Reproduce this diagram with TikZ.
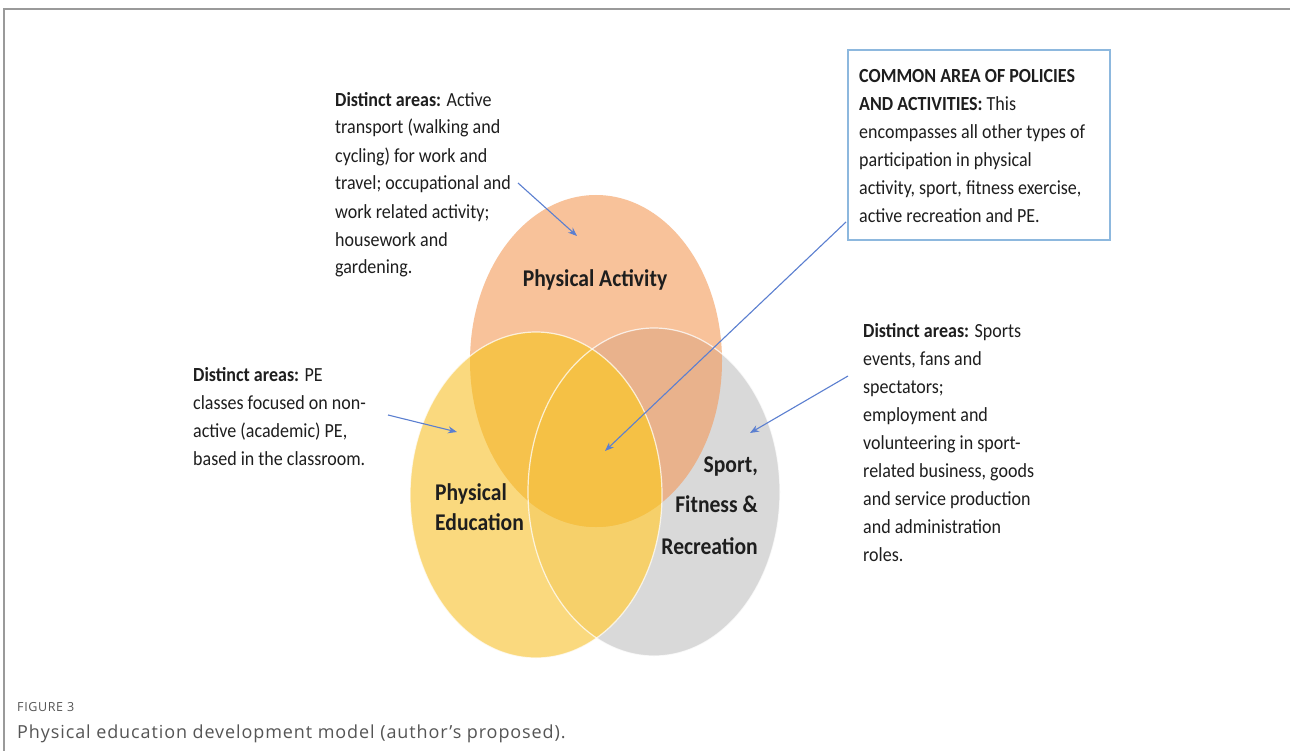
\documentclass[tikz,border=0pt]{standalone}
\usepackage{fontspec}
\setmainfont{Carlito}
\newfontfamily\cf[FakeStretch=0.9]{Carlito}
\newfontfamily\capfont[LetterSpace=5]{Open Sans}
\usetikzlibrary{arrows.meta}
\definecolor{paC}{HTML}{F8C29A}
\definecolor{sfC}{HTML}{D9D9D9}
\definecolor{peC}{HTML}{FAD97E}
\definecolor{paSf}{HTML}{E9B28C}
\definecolor{peSf}{HTML}{F6D06A}
\definecolor{paPe}{HTML}{F6C24C}
\definecolor{allC}{HTML}{F5C145}
\definecolor{arrC}{HTML}{5B7FD0}
\definecolor{boxC}{HTML}{8DB8DE}
\definecolor{frameC}{HTML}{9A9A9A}
\definecolor{capC}{HTML}{555555}
\definecolor{txtC}{HTML}{1E1E1E}
\begin{document}
\begin{tikzpicture}[x=1pt,y=-1pt,
  txt/.style={font=\cf\fontsize{20}{28}\selectfont, align=left, inner sep=0pt, text=txtC},
  lbl/.style={font=\cf\bfseries\fontsize{24}{30}\selectfont, inner sep=0pt, text=txtC},
  conn/.style={draw=arrC, line width=1.1pt, -{Stealth[length=9pt,width=7pt]}},
  rim/.style={draw=white, line width=1.2pt, opacity=0.75}]
\useasboundingbox (0,0) rectangle (1290,751);
\fill[white] (0,0) rectangle (1290,751);
\draw[frameC, line width=1.4pt] (1290,9) -- (4,9) -- (4,751);

% ellipses
\fill[paC] (596,361) ellipse [x radius=126, y radius=166];
\fill[sfC] (654,492) ellipse [x radius=126, y radius=164];
\fill[peC] (536,495) ellipse [x radius=126, y radius=163];
\begin{scope}
  \clip (596,361) ellipse [x radius=126, y radius=166];
  \fill[paSf] (654,492) ellipse [x radius=126, y radius=164];
\end{scope}
\begin{scope}
  \clip (536,495) ellipse [x radius=126, y radius=163];
  \fill[peSf] (654,492) ellipse [x radius=126, y radius=164];
\end{scope}
\begin{scope}
  \clip (596,361) ellipse [x radius=126, y radius=166];
  \fill[paPe] (536,495) ellipse [x radius=126, y radius=163];
\end{scope}
\begin{scope}
  \clip (596,361) ellipse [x radius=126, y radius=166];
  \clip (654,492) ellipse [x radius=126, y radius=164];
  \fill[allC] (536,495) ellipse [x radius=126, y radius=163];
\end{scope}
\draw[rim] (654,492) ellipse [x radius=126, y radius=164];
\draw[rim] (536,495) ellipse [x radius=126, y radius=163];

% circle labels
\node[lbl, anchor=base] (lPA) at (595,287) {Physical Activity};
\node[lbl, anchor=base west] (lPE1) at (435,500) {Physical};
\node[lbl, anchor=base west] (lPE2) at (435,530) {Education};
\node[lbl, anchor=base east] (lSF1) at (758,472) {Sport,};
\node[lbl, anchor=base east] (lSF2) at (758,512) {Fitness \&};
\node[lbl, anchor=base east] (lSF3) at (758,554) {Recreation};

% texts (base anchor = last line's baseline)
\node[txt, anchor=base west] (tPA) at (335,274) {\textbf{Distinct areas:} Active\\transport (walking and\\cycling) for work and\\travel; occupational and\\work related activity;\\housework and\\gardening.};
\node[txt, anchor=base west] (tPE) at (193,465) {\textbf{Distinct areas:} PE\\classes focused on non-\\active (academic) PE,\\based in the classroom.};
\node[txt, anchor=base west] (tSF) at (863,561) {\textbf{Distinct areas:} Sports\\events, fans and\\spectators;\\employment and\\volunteering in sport-\\related business, goods\\and service production\\and administration\\roles.};
\node[draw=boxC, line width=1.6pt, fill=white, minimum width=262pt, minimum height=190pt, anchor=north west, inner sep=0pt] (box) at (847,49) {};
\node[txt, anchor=base west] (tBox) at (859,223) {\textbf{COMMON AREA OF POLICIES}\\\textbf{AND ACTIVITIES:} This\\encompasses all other types of\\participation in physical\\activity, sport, fitness exercise,\\active recreation and PE.};

% connectors
\coordinate (aPAs) at (518,183);
\coordinate (aPAe) at (577,236);
\coordinate (aPEs) at (388,415);
\coordinate (aPEe) at (457,432);
\coordinate (aCs) at (846,222);
\coordinate (aCe) at (605,451);
\coordinate (aSFs) at (848,376);
\coordinate (aSFe) at (750,433);
\draw[conn] (aPAs) -- (aPAe);
\draw[conn] (aPEs) -- (aPEe);
\draw[conn] (aCs) -- (aCe);
\draw[conn] (aSFs) -- (aSFe);

% caption
\node[anchor=base west, inner sep=0pt, font=\capfont\fontsize{12.5}{14}\selectfont, text=capC] (fig) at (17,711) {FIGURE 3};
\node[anchor=base west, inner sep=0pt, font=\capfont\fontsize{18}{20}\selectfont, text=capC] (cap) at (17,738) {Physical education development model (author’s proposed).};
\end{tikzpicture}
\end{document}
